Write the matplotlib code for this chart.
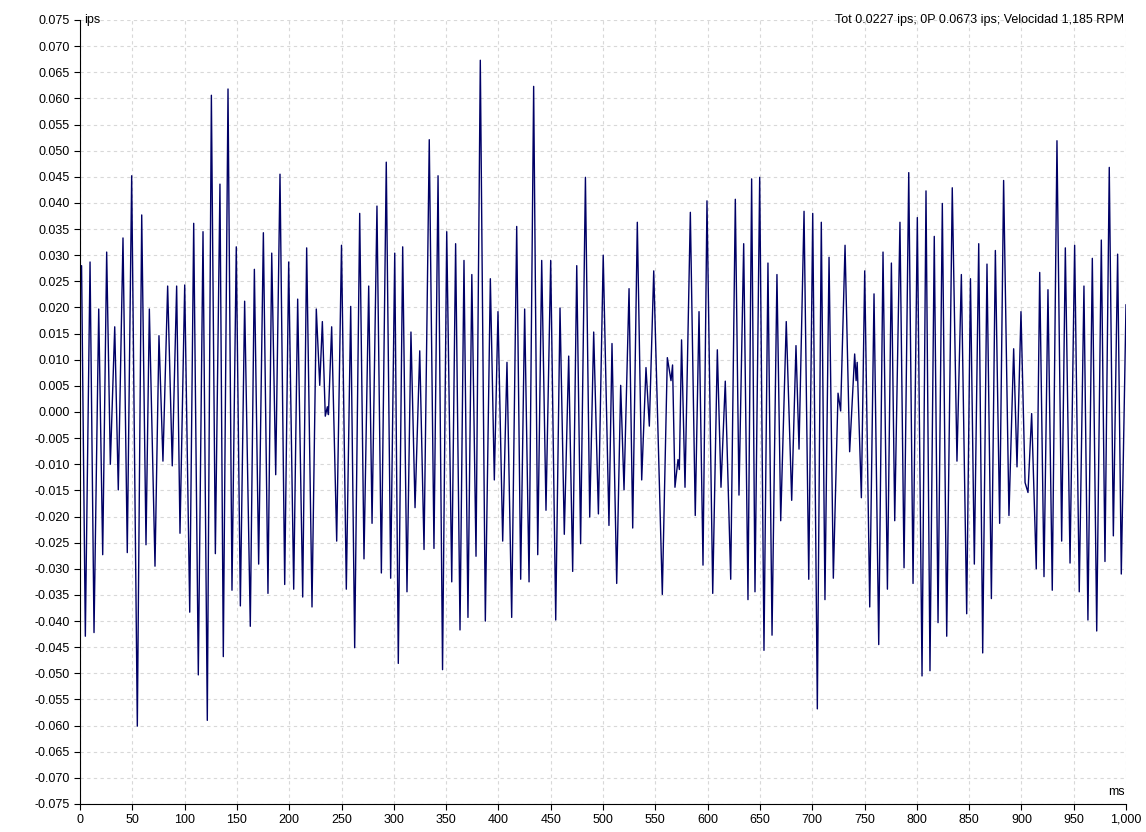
import matplotlib
matplotlib.use("Agg")
import matplotlib.pyplot as plt
from matplotlib.ticker import FuncFormatter, MultipleLocator

# extremes of the waveform (time in ms, velocity in ips)
t_ms = [0, 1.5, 5.1, 9.6, 13.4, 17.9, 21.7, 25.5, 29.0, 33.2, 36.6, 41.1, 45.2, 49.4, 54.8, 59.0,
        63.1, 66.3, 71.7, 75.5, 79.3, 83.8, 88.2, 92.4, 95.6, 100.1, 104.9, 108.7, 113.1, 117.6, 121.7, 125.6,
        129.4, 133.8, 137.0, 141.5, 145.3, 149.4, 153.3, 157.4, 162.8, 166.7, 170.8, 175.3, 179.7, 183.3,
        187.1, 191.2, 195.7, 199.5, 204.3, 208.1, 212.9, 216.7, 221.8, 225.9, 229.2, 231.7, 234.5, 236.5,
        237.5, 240.6, 245.4, 250.0,
        254.6, 258.8, 262.6, 267.4, 271.5, 276.0, 279.2, 283.9, 288.1, 292.8, 297.0, 300.9, 304.3, 308.5,
        312.6, 316.4, 320.3, 324.8, 328.9, 333.9, 338.4, 342.3, 346.6, 350.6, 355.4, 359.1, 363.3, 367.1,
        370.9, 374.6,
        378.6, 382.7, 387.5, 392.3, 396.1, 399.6, 404.1, 408.2, 412.7, 417.5, 421.3, 425.1, 429.3, 433.7,
        437.6, 441.4, 445.5, 450.0, 454.8, 458.9, 463.0, 467.2, 471.0, 474.9, 478.6, 483.2, 487.3, 491.1,
        495.6,
        500.2, 505.7, 508.6, 513.1, 516.9, 520.1, 524.9, 528.4, 532.8, 537.0, 541.1, 544.3, 548.5, 556.7,
        561.5, 565.0, 566.5, 568.8, 571.7, 573.0, 575.1, 578.4, 583.5, 588.2, 591.8, 595.6, 599.4, 604.9,
        609.3, 612.8, 616.9, 622.1,
        626.5, 630.0, 634.5, 638.6, 642.1, 645.3, 649.8, 653.9, 657.7, 661.6, 666.3, 669.9, 675.2, 680.4,
        684.5, 687.4, 692.2, 696.7, 700.5, 704.9, 708.7, 712.2, 716.1, 720.2, 724.7, 727.2, 731.4, 735.8,
        740.6, 742.0, 743.0, 747.0,
        750.2, 755.0, 759.1, 763.6, 767.7, 771.9, 775.7, 778.9, 783.9, 787.8, 792.3, 796.4, 800.5, 805.0,
        808.8, 812.6, 816.7, 820.3, 824.4, 828.6, 833.9, 838.4, 842.6, 847.7, 851.3, 855.0, 859.2, 863.0,
        867.1, 871.3,
        875.1, 879.2, 883.0, 888.1, 892.6, 895.8, 899.6, 903.5, 906.3, 909.8, 914.2, 917.5, 921.6, 925.4,
        929.5, 934.0, 938.5, 942.0, 946.5, 950.9, 955.3, 959.8, 963.6, 967.8, 972.0, 976.4, 979.9, 984.0,
        987.9, 992.0, 995.5, 1000.0]

vel_ips = [0.0265, 0.0280, -0.0429, 0.0287, -0.0422, 0.0197, -0.0273, 0.0306, -0.0100, 0.0163, -0.0149,
           0.0333, -0.0269, 0.0452, -0.0601, 0.0377, -0.0254, 0.0197, -0.0295, 0.0146, -0.0094, 0.0241,
           -0.0103, 0.0241, -0.0232, 0.0243, -0.0383, 0.0361, -0.0503, 0.0345, -0.0590, 0.0606,
           -0.0271, 0.0436, -0.0468, 0.0618, -0.0341, 0.0316, -0.0371, 0.0212, -0.0410, 0.0273, -0.0291,
           0.0343, -0.0347, 0.0304, -0.0120, 0.0455, -0.0330, 0.0287, -0.0339, 0.0216, -0.0354, 0.0314,
           -0.0373, 0.0197, 0.0051, 0.0173, -0.0008, 0.0010, -0.0005, 0.0163, -0.0247, 0.0319,
           -0.0339, 0.0202, -0.0451, 0.0380, -0.0281, 0.0241, -0.0213, 0.0394, -0.0308, 0.0478, -0.0318,
           0.0304, -0.0481, 0.0316, -0.0344, 0.0153, -0.0183, 0.0117, -0.0263, 0.0521, -0.0261, 0.0452,
           -0.0493, 0.0345, -0.0325, 0.0322, -0.0417, 0.0290, -0.0393, 0.0263,
           -0.0276, 0.0673, -0.0400, 0.0255, -0.0130, 0.0192, -0.0247, 0.0095, -0.0393, 0.0355, -0.0320,
           0.0197, -0.0325, 0.0623, -0.0273, 0.0290, -0.0188, 0.0290, -0.0398, 0.0199, -0.0234, 0.0107,
           -0.0305, 0.0280, -0.0252, 0.0449, -0.0201, 0.0153, -0.0195,
           0.0300, -0.0217, 0.0131, -0.0328, 0.0051, -0.0149, 0.0236, -0.0222, 0.0363, -0.0130, 0.0085,
           -0.0027, 0.0270, -0.0349, 0.0104, 0.0060, 0.0090, -0.0144, -0.0091, -0.0110, 0.0138, -0.0144,
           0.0382, -0.0198, 0.0192, -0.0293, 0.0404, -0.0347, 0.0119, -0.0144, 0.0059, -0.0320,
           0.0407, -0.0159, 0.0322, -0.0359, 0.0446, -0.0344, 0.0449, -0.0456, 0.0285, -0.0427, 0.0263,
           -0.0208, 0.0173, -0.0169, 0.0127, -0.0071, 0.0384, -0.0320, 0.0380, -0.0568, 0.0363, -0.0359,
           0.0296, -0.0318, 0.0036, 0.0002, 0.0319, -0.0076, 0.0111, 0.0060, 0.0095, -0.0164,
           0.0270, -0.0373, 0.0226, -0.0445, 0.0306, -0.0339, 0.0285, -0.0208, 0.0363, -0.0298, 0.0458,
           -0.0328, 0.0372, -0.0505, 0.0423, -0.0495, 0.0336, -0.0403, 0.0399, -0.0429, 0.0429, -0.0094,
           0.0263, -0.0386, 0.0255, -0.0291, 0.0322, -0.0461, 0.0283, -0.0357,
           0.0309, -0.0213, 0.0443, -0.0198, 0.0121, -0.0105, 0.0192, -0.0135, -0.0154, -0.0003, -0.0300,
           0.0267, -0.0315, 0.0234, -0.0341, 0.0519, -0.0247, 0.0314, -0.0289, 0.0319, -0.0344, 0.0241,
           -0.0398, 0.0294, -0.0419, 0.0329, -0.0286, 0.0468, -0.0237, 0.0302, -0.0310, 0.0205]

header = "Tot 0.0227 ips; 0P 0.0673 ips; Velocidad 1,185 RPM"

plt.rcParams['font.family'] = ['Liberation Sans', 'DejaVu Sans']

fig = plt.figure(figsize=(11.46, 8.32), dpi=100)
ax = fig.add_axes([80 / 1146, 1 - 804 / 832, 1046 / 1146, 784 / 832])

ax.plot(t_ms, vel_ips, color='#000066', lw=1.0)

ax.set_xlim(0, 1000)
ax.set_ylim(-0.075, 0.075)
ax.xaxis.set_major_locator(MultipleLocator(50))
ax.yaxis.set_major_locator(MultipleLocator(0.005))
ax.xaxis.set_major_formatter(FuncFormatter(lambda v, p: "{:,.0f}".format(v)))
ax.yaxis.set_major_formatter(FuncFormatter(lambda v, p: "{:.3f}".format(0.0 if abs(v) < 1e-9 else v)))
ax.tick_params(labelsize=9, length=4, width=0.8, colors='black')
ax.tick_params(axis='x', pad=9.5)
for lbl in ax.get_xticklabels():
    lbl.set_verticalalignment('baseline')

ax.grid(True, color='#d8d8d8', linestyle=(0, (3, 3)), linewidth=0.8)
ax.set_axisbelow(True)
for s in ['top', 'right']:
    ax.spines[s].set_visible(False)
for s in ['left', 'bottom']:
    ax.spines[s].set_linewidth(0.8)

ax.text(0.004, 1.0, "ips", transform=ax.transAxes, ha='left', va='center', fontsize=9)
ax.text(0.9985, 1.0, header, transform=ax.transAxes, ha='right', va='center', fontsize=9)
ax.text(0.9985, 0.008, "ms", transform=ax.transAxes, ha='right', va='bottom', fontsize=9)

fig.savefig("out.png", dpi=100)
